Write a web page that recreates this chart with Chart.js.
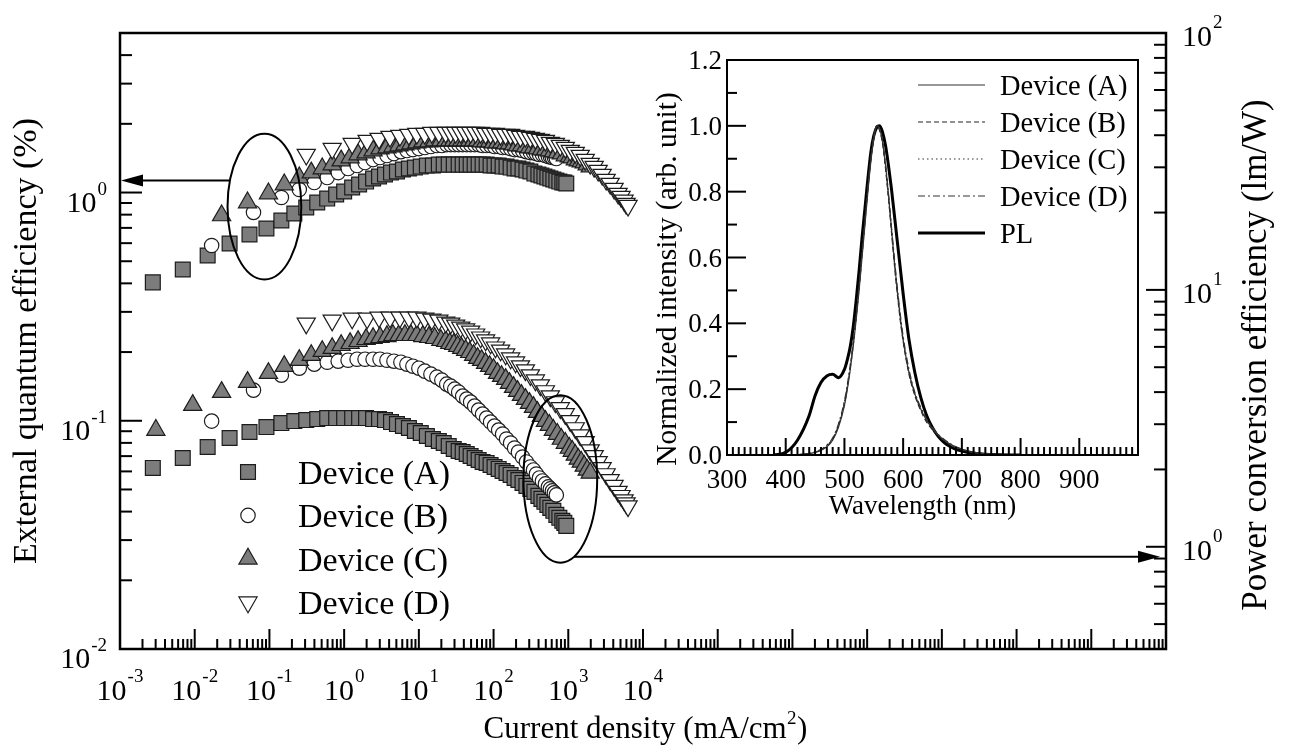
<!DOCTYPE html>
<html>
<head>
<meta charset="utf-8">
<script src="https://cdn.jsdelivr.net/npm/chart.js@4.4.1/dist/chart.umd.min.js"></script>
<style>
  html, body { margin: 0; padding: 0; background: #fff; }
  #wrap { position: relative; width: 1293px; height: 756px; }
  #wrap canvas { position: absolute; left: 0; top: 0; }
</style>
</head>
<body>
<div id="wrap">
  <canvas id="main" width="1293" height="756"></canvas>
  <canvas id="inset" width="1293" height="756"></canvas>
</div>
<script>
// ---- main plot data: current density (mA/cm2), EQE (%), power efficiency (lm/W)
const jA = [0.00275, 0.00692, 0.0149, 0.0293, 0.0541, 0.0912, 0.1445, 0.2154, 0.311, 0.4365, 0.593, 0.782, 1.0, 1.28, 1.585, 1.965, 2.44, 2.93, 3.52, 4.24, 5.09, 6.12, 7.36, 8.85, 10.6, 12.8, 15.4,
  18.5, 21.5, 25.1, 29.3, 34.1, 38.6, 43.7, 49.3, 55.8, 63.1, 71.3, 80.7, 91.2, 103, 117, 132, 149, 169, 191, 215, 244, 275, 311, 352, 398, 437, 479, 525, 575, 631, 692, 759, 832, 885, 940];
const eqeA = [0.404, 0.460, 0.530, 0.598, 0.655, 0.696, 0.754, 0.809, 0.860, 0.904, 0.941, 0.980, 1.010, 1.052, 1.084, 1.117, 1.152, 1.175, 1.199, 1.223, 1.236, 1.261, 1.274, 1.286, 1.299, 1.313, 1.313,
  1.326, 1.326, 1.326, 1.326, 1.326, 1.326, 1.326, 1.326, 1.326, 1.326, 1.326, 1.326, 1.313, 1.313, 1.313, 1.299, 1.299, 1.286, 1.274, 1.274, 1.261, 1.248, 1.236, 1.211, 1.199, 1.187, 1.175, 1.163, 1.152, 1.140, 1.128, 1.117, 1.106, 1.106, 1.095];
const pceA = [2.027, 2.216, 2.445, 2.651, 2.797, 2.924, 3.030, 3.085, 3.113, 3.141, 3.170, 3.170, 3.170, 3.170, 3.170, 3.170, 3.141, 3.141, 3.113, 3.058, 3.004, 2.951, 2.899, 2.822, 2.772, 2.698, 2.627,
  2.580, 2.534, 2.467, 2.402, 2.359, 2.338, 2.297, 2.256, 2.216, 2.177, 2.139, 2.120, 2.082, 2.045, 2.009, 1.973, 1.938, 1.904, 1.853, 1.820, 1.772, 1.725, 1.680, 1.636, 1.578, 1.536, 1.496, 1.456, 1.417, 1.380, 1.331, 1.296, 1.262, 1.239, 1.206];

const jB = [0.01685, 0.0612, 0.1445, 0.251, 0.398, 0.593, 0.832, 1.13, 1.49, 1.905, 2.44, 3.02, 3.74, 4.64, 5.75, 6.92, 8.32, 10.0, 12.0, 14.5, 17.4,
  20.3, 23.6, 26.7, 30.2, 34.1, 38.6, 43.7, 49.3, 55.8, 63.1, 71.3, 80.7, 91.2, 103, 117, 132, 149, 169, 191, 215, 244, 275, 311, 342, 374, 411, 450, 494, 541, 575, 612, 651, 692];
const eqeB = [0.586, 0.818, 0.951, 1.031, 1.106, 1.163, 1.223, 1.274, 1.313, 1.353, 1.394, 1.423, 1.452, 1.481, 1.511, 1.527, 1.542, 1.558, 1.574, 1.590, 1.606,
  1.606, 1.622, 1.622, 1.622, 1.622, 1.622, 1.622, 1.622, 1.622, 1.622, 1.606, 1.606, 1.606, 1.590, 1.590, 1.574, 1.574, 1.558, 1.542, 1.542, 1.527, 1.511, 1.496, 1.496, 1.481, 1.467, 1.467, 1.452, 1.437, 1.437, 1.423, 1.423, 1.409];
const pceB = [3.085, 4.072, 4.656, 4.957, 5.137, 5.229, 5.277, 5.324, 5.372, 5.372, 5.372, 5.372, 5.324, 5.277, 5.229, 5.137, 5.046, 4.957, 4.826, 4.698, 4.574,
  4.452, 4.295, 4.219, 4.108, 3.999, 3.859, 3.757, 3.657, 3.529, 3.404, 3.285, 3.170, 3.058, 2.951, 2.847, 2.747, 2.627, 2.534, 2.424, 2.338, 2.236, 2.139, 2.045, 1.991, 1.920, 1.853, 1.804, 1.757, 1.710, 1.680, 1.650, 1.621, 1.592];

const jC = [0.00302, 0.0094, 0.0229, 0.0509, 0.097, 0.158, 0.251, 0.363, 0.509, 0.692, 0.912, 1.202, 1.537, 1.965, 2.44, 3.02, 3.74, 4.50, 5.41, 6.51, 7.82, 9.40, 11.3, 13.6, 16.3, 19.7,
  22.9, 25.9, 29.3, 33.1, 37.4, 42.3, 47.9, 54.1, 61.2, 69.2, 78.2, 88.4, 100, 113, 128, 145, 163, 185, 209, 236, 267, 302, 342, 386, 437, 494, 558, 631, 713, 807, 912, 1031, 1130, 1240, 1360, 1491, 1634, 1792, 1965];
const eqeC = [null, null, 0.793, 0.904, 0.990, 1.084, 1.163, 1.223, 1.274, 1.326, 1.380, 1.423, 1.467, 1.496, 1.527, 1.558, 1.574, 1.590, 1.606, 1.622, 1.639, 1.655, 1.672, 1.672, 1.689, 1.689,
  1.689, 1.689, 1.689, 1.689, 1.689, 1.689, 1.689, 1.689, 1.689, 1.672, 1.672, 1.672, 1.655, 1.655, 1.655, 1.639, 1.639, 1.622, 1.606, 1.606, 1.590, 1.574, 1.574, 1.558, 1.542, 1.542, 1.527, 1.511, 1.496, 1.481, 1.452, 1.437, 1.423, 1.394, 1.380, 1.367, 1.353, 1.326, 1.299];
const pceC = [2.847, 3.561, 3.999, 4.373, 4.740, 5.046, 5.324, 5.568, 5.771, 5.928, 6.088, 6.198, 6.310, 6.424, 6.481, 6.540, 6.598, 6.658, 6.658, 6.658, 6.658, 6.658, 6.598, 6.540, 6.481, 6.367,
  6.310, 6.198, 6.143, 6.034, 5.928, 5.821, 5.719, 5.568, 5.420, 5.324, 5.184, 5.046, 4.912, 4.740, 4.614, 4.492, 4.335, 4.182, 4.035, 3.894, 3.757, 3.624, 3.497, 3.344, 3.226, 3.085, 2.977, 2.847, 2.747, 2.627, 2.534, 2.424, 2.359, 2.277, 2.197, 2.139, 2.064, 1.991, 1.938];

const jD = [0.311, 0.692, 1.28, 2.03, 2.93, 4.11, 5.58, 7.36, 9.40, 12.0, 14.9, 18.5, 22.9,
  26.7, 31.1, 36.3, 42.3, 49.3, 57.5, 67.1, 78.2, 91.2, 106, 124, 145, 169, 197, 229, 267, 311, 363, 423, 494, 575, 671, 782, 912, 1063, 1240, 1445, 1686, 1965, 2222, 2512, 2840, 3211, 3631, 4105, 4642, 5090, 5580, 5933, 6310];
const eqeD = [1.467, 1.558, 1.639, 1.689, 1.723, 1.758, 1.776, 1.794, 1.812, 1.812, 1.830, 1.830, 1.830,
  1.830, 1.830, 1.830, 1.830, 1.830, 1.830, 1.830, 1.812, 1.812, 1.812, 1.794, 1.794, 1.794, 1.776, 1.758, 1.758, 1.741, 1.723, 1.706, 1.689, 1.655, 1.639, 1.606, 1.574, 1.527, 1.496, 1.452, 1.394, 1.339, 1.299, 1.248, 1.199, 1.140, 1.095, 1.041, 0.990, 0.960, 0.923, 0.895, 0.877];
const pceD = [7.41, 7.61, 7.75, 7.75, 7.82, 7.82, 7.82, 7.82, 7.82, 7.75, 7.68, 7.61, 7.48,
  7.41, 7.28, 7.15, 7.03, 6.90, 6.72, 6.54, 6.37, 6.20, 5.98, 5.82, 5.62, 5.42, 5.23, 5.05, 4.87, 4.66, 4.45, 4.26, 4.04, 3.86, 3.66, 3.47, 3.29, 3.09, 2.90, 2.72, 2.56, 2.38, 2.26, 2.14, 2.03, 1.92, 1.82, 1.73, 1.64, 1.58, 1.52, 1.48, 1.44];

const deviceNames = ['Device (A)', 'Device (B)', 'Device (C)', 'Device (D)'];
const xTickExps = [-3, -2, -1, 0, 1, 2, 3, 4];
const eqeTickExps = [-2, -1, 0];
const pceTickExps = [0, 1, 2];

// ellipse + arrow marks, in data units
const eqeMark = { j: [0.0275, 0.267], v: [0.416, 1.81], arrowAt: 1.128 };
const pceMark = { j: [251, 2436], v: [0.867, 3.89], arrowAt: 0.915 };

// ---- inset data: EL / PL spectra
const wavelength = [380, 400, 420, 440, 450, 460, 470, 480, 490, 500, 505, 510, 515, 520, 525, 530, 535, 540, 545, 550, 555, 560, 565, 570, 575, 580, 585, 590, 595, 600, 610, 620, 630, 640, 650, 660, 670, 680, 690, 700, 720, 740, 760, 800];
const elA = [0, 0, 0.001, 0.004, 0.008, 0.014, 0.025, 0.045, 0.085, 0.15, 0.2, 0.26, 0.33, 0.41, 0.5, 0.6, 0.7, 0.8, 0.89, 0.96, 1.0, 0.99, 0.95, 0.88, 0.79, 0.69, 0.59, 0.5, 0.42, 0.35, 0.25, 0.185, 0.14, 0.105, 0.08, 0.06, 0.045, 0.033, 0.024, 0.017, 0.008, 0.004, 0.002, 0];
const elB = [0, 0, 0.001, 0.004, 0.008, 0.015, 0.027, 0.048, 0.09, 0.155, 0.205, 0.265, 0.335, 0.42, 0.51, 0.61, 0.71, 0.81, 0.9, 0.965, 1.0, 0.985, 0.945, 0.87, 0.78, 0.68, 0.58, 0.49, 0.41, 0.345, 0.245, 0.18, 0.135, 0.1, 0.077, 0.058, 0.043, 0.032, 0.023, 0.016, 0.008, 0.004, 0.002, 0];
const elC = [0, 0, 0.001, 0.005, 0.009, 0.016, 0.028, 0.05, 0.092, 0.16, 0.21, 0.27, 0.34, 0.42, 0.51, 0.61, 0.71, 0.81, 0.9, 0.965, 1.0, 0.99, 0.95, 0.875, 0.785, 0.685, 0.585, 0.495, 0.415, 0.35, 0.25, 0.185, 0.14, 0.105, 0.08, 0.06, 0.045, 0.033, 0.024, 0.017, 0.008, 0.004, 0.002, 0];
const elD = [0, 0, 0.001, 0.005, 0.01, 0.017, 0.03, 0.052, 0.095, 0.165, 0.215, 0.275, 0.345, 0.425, 0.515, 0.615, 0.715, 0.815, 0.905, 0.97, 1.0, 0.99, 0.955, 0.885, 0.795, 0.695, 0.6, 0.51, 0.43, 0.36, 0.26, 0.19, 0.145, 0.11, 0.083, 0.062, 0.047, 0.035, 0.025, 0.018, 0.009, 0.004, 0.002, 0];
const plSpec = [0, 0.008, 0.045, 0.12, 0.18, 0.22, 0.24, 0.245, 0.235, 0.26, 0.29, 0.33, 0.39, 0.47, 0.56, 0.66, 0.75, 0.84, 0.92, 0.97, 0.995, 1.0, 0.98, 0.94, 0.88, 0.81, 0.73, 0.65, 0.57, 0.49, 0.35, 0.25, 0.175, 0.12, 0.083, 0.056, 0.038, 0.026, 0.017, 0.012, 0.005, 0.002, 0.001, 0];
const specNames = ['Device (A)', 'Device (B)', 'Device (C)', 'Device (D)', 'PL'];
const wlTicks = [300, 400, 500, 600, 700, 800, 900];
const intTicks = [0, 0.2, 0.4, 0.6, 0.8, 1.0, 1.2];

const SERIF = '"Liberation Serif", "Times New Roman", Times, serif';
const EDGE = '#1c1c1c';

const STYLE = [
  { pointStyle: 'rect', pointRadius: 10.5, pointRotation: 0, pointBackgroundColor: '#7c7c7c' },
  { pointStyle: 'circle', pointRadius: 7.2, pointRotation: 0, pointBackgroundColor: '#ffffff' },
  { pointStyle: 'triangle', pointRadius: 10.5, pointRotation: 0, pointBackgroundColor: '#7c7c7c' },
  { pointStyle: 'triangle', pointRadius: 10.5, pointRotation: 180, pointBackgroundColor: '#ffffff' }
];

function series(label, js, vals, axis, st, order) {
  const data = [];
  js.forEach((j, i) => { if (vals[i] != null) data.push({ x: j, y: vals[i] }); });
  return Object.assign({
    label, data, yAxisID: axis, showLine: false, order,
    pointBorderColor: EDGE, pointBorderWidth: 1.2
  }, st);
}

const js = [jA, jB, jC, jD];
const eqes = [eqeA, eqeB, eqeC, eqeD];
const pces = [pceA, pceB, pceC, pceD];
const mainSets = [];
for (let k = 0; k < 4; k++) {
  mainSets.push(series(deviceNames[k] + ' EQE', js[k], eqes[k], 'y', STYLE[k], 4 - k));
  mainSets.push(series(deviceNames[k] + ' PCE', js[k], pces[k], 'y2', STYLE[k], 4 - k));
}

function line(ctx, x0, y0, x1, y1) {
  ctx.beginPath(); ctx.moveTo(x0, y0); ctx.lineTo(x1, y1); ctx.stroke();
}

function logTicks(scale, fn) {
  const lo = Math.floor(Math.log10(scale.min)), hi = Math.ceil(Math.log10(scale.max));
  for (let d = lo; d <= hi; d++) {
    for (let m = 1; m <= 9; m++) {
      const v = m * Math.pow(10, d);
      if (v < scale.min * 0.999 || v > scale.max * 1.001) continue;
      fn(scale.getPixelForValue(v), m === 1);
    }
  }
}

// "10" with a raised exponent; align is for the whole group
function powLabel(ctx, exp, x, base, supBase, align) {
  const big = '30px ' + SERIF, small = '19px ' + SERIF;
  const e = exp < 0 ? '-' + (-exp) : String(exp);
  ctx.font = big; const w1 = ctx.measureText('10').width;
  ctx.font = small; const w2 = ctx.measureText(e).width;
  let x0 = x;
  if (align === 'center') x0 = x - (w1 + w2 + 1) / 2;
  if (align === 'right') x0 = x - (w1 + w2 + 1);
  ctx.textAlign = 'left'; ctx.textBaseline = 'alphabetic';
  ctx.font = big; ctx.fillText('10', x0, base);
  ctx.font = small; ctx.fillText(e, x0 + w1 + 1, supBase);
}

function ellipseOf(xs, ys, mark) {
  const x0 = xs.getPixelForValue(mark.j[0]), x1 = xs.getPixelForValue(mark.j[1]);
  const y0 = ys.getPixelForValue(mark.v[0]), y1 = ys.getPixelForValue(mark.v[1]);
  return { cx: (x0 + x1) / 2, cy: (y0 + y1) / 2, rx: Math.abs(x1 - x0) / 2, ry: Math.abs(y1 - y0) / 2 };
}

function arrow(ctx, x0, y, x1) {
  const dir = Math.sign(x1 - x0), head = 22, half = 6;
  line(ctx, x0, y, x1 - dir * head, y);
  ctx.beginPath();
  ctx.moveTo(x1, y);
  ctx.lineTo(x1 - dir * head, y - half);
  ctx.lineTo(x1 - dir * head, y + half);
  ctx.closePath(); ctx.fill();
}

const mainDecor = {
  id: 'mainDecor',
  afterDraw(chart) {
    const { ctx, chartArea: a } = chart;
    const { x, y, y2 } = chart.scales;
    ctx.save();
    ctx.strokeStyle = '#000'; ctx.fillStyle = '#000';
    ctx.lineWidth = 2;
    logTicks(x, (px, major) => line(ctx, px, a.bottom, px, a.bottom - (major ? 20 : 10)));
    logTicks(y, (py, major) => line(ctx, a.left, py, a.left + (major ? 22 : 12), py));
    logTicks(y2, (py, major) => line(ctx, a.right, py, a.right - (major ? 20 : 12), py));
    ctx.lineWidth = 2.5;
    ctx.strokeRect(a.left, a.top, a.right - a.left, a.bottom - a.top);

    xTickExps.forEach(d => powLabel(ctx, d, x.getPixelForValue(Math.pow(10, d)), a.bottom + 51, a.bottom + 33, 'center'));
    eqeTickExps.forEach(d => { const py = y.getPixelForValue(Math.pow(10, d)); powLabel(ctx, d, a.left - 13, py + 19, py + 2, 'right'); });
    pceTickExps.forEach(d => { const py = y2.getPixelForValue(Math.pow(10, d)); powLabel(ctx, d, a.right + 16, py + 13, py - 5, 'left'); });

    // axis titles
    ctx.textBaseline = 'alphabetic';
    const t1 = 'Current density (mA/cm', t2 = ')';
    ctx.font = '31px ' + SERIF;
    const w1 = ctx.measureText(t1).width, w3 = ctx.measureText(t2).width;
    ctx.font = '19px ' + SERIF; const w2 = ctx.measureText('2').width;
    const tx = (a.left + a.right) / 2 + 2 - (w1 + w2 + w3) / 2;
    ctx.textAlign = 'left';
    ctx.font = '31px ' + SERIF; ctx.fillText(t1, tx, 738);
    ctx.font = '19px ' + SERIF; ctx.fillText('2', tx + w1 + 0.5, 724);
    ctx.font = '31px ' + SERIF; ctx.fillText(t2, tx + w1 + w2 + 1, 738);

    ctx.textAlign = 'center';
    ctx.font = '34px ' + SERIF;
    ctx.save(); ctx.translate(36, (a.top + a.bottom) / 2); ctx.rotate(-Math.PI / 2);
    ctx.fillText('External quantum efficiency (%)', 0, 0); ctx.restore();
    ctx.font = '35px ' + SERIF;
    ctx.save(); ctx.translate(1266, 355); ctx.rotate(-Math.PI / 2);
    ctx.fillText('Power conversion efficiency (lm/W)', 0, 0); ctx.restore();

    // legend
    ctx.font = '34px ' + SERIF; ctx.textAlign = 'left';
    deviceNames.forEach((name, k) => {
      const ry = a.top + 439 + k * 43.4;
      const st = STYLE[k];
      ctx.fillStyle = st.pointBackgroundColor; ctx.strokeStyle = EDGE; ctx.lineWidth = 1.2;
      Chart.helpers.drawPoint(ctx, { pointStyle: st.pointStyle, radius: st.pointRadius, rotation: st.pointRotation, borderWidth: 1.2 }, a.left + 128, ry);
      ctx.fillStyle = '#000';
      ctx.fillText(name, a.left + 178, ry + 12);
    });

    // ellipses with arrows to their axes
    ctx.strokeStyle = '#000'; ctx.fillStyle = '#000'; ctx.lineWidth = 2;
    const e1 = ellipseOf(x, y, eqeMark), e2 = ellipseOf(x, y2, pceMark);
    [e1, e2].forEach(e => { ctx.beginPath(); ctx.ellipse(e.cx, e.cy, e.rx, e.ry, 0, 0, Math.PI * 2); ctx.stroke(); });
    const ay1 = y.getPixelForValue(eqeMark.arrowAt);
    const ax1 = e1.cx - e1.rx * Math.sqrt(1 - Math.pow((ay1 - e1.cy) / e1.ry, 2));
    arrow(ctx, ax1, ay1, a.left + 1);
    const ay2 = y2.getPixelForValue(pceMark.arrowAt);
    const ax2 = e2.cx + e2.rx * Math.sqrt(Math.max(0, 1 - Math.pow((ay2 - e2.cy) / e2.ry, 2)));
    arrow(ctx, ax2, ay2, a.right - 6);
    ctx.restore();
  }
};

const hidden = { ticks: { display: false }, grid: { display: false }, border: { display: false } };

new Chart(document.getElementById('main'), {
  type: 'scatter',
  data: { datasets: mainSets },
  options: {
    responsive: false, animation: false, devicePixelRatio: 1, events: [],
    layout: { padding: { top: 33, left: 0, right: 0, bottom: 0 } },
    plugins: { legend: { display: false }, tooltip: { enabled: false } },
    scales: {
      x: Object.assign({ type: 'logarithmic', min: 1e-3, max: 1e11, afterFit(s) { s.height = 107; } }, hidden),
      y: Object.assign({ type: 'logarithmic', position: 'left', min: 0.01, max: 5, afterFit(s) { s.width = 120; } }, hidden),
      y2: Object.assign({ type: 'logarithmic', position: 'right', min: 0.4, max: 100, afterFit(s) { s.width = 127; } }, hidden)
    }
  },
  plugins: [mainDecor]
});

// ---- inset
const SPEC_STYLE = [
  { borderColor: '#333', borderWidth: 1.2, borderDash: [] },
  { borderColor: '#222', borderWidth: 1.2, borderDash: [5, 3] },
  { borderColor: '#333', borderWidth: 1.2, borderDash: [1.5, 3] },
  { borderColor: '#333', borderWidth: 1.2, borderDash: [7, 3, 2, 3] },
  { borderColor: '#000', borderWidth: 3, borderDash: [] }
];
const specs = [elA, elB, elC, elD, plSpec];
const insetSets = specs.map((s, k) => Object.assign({
  label: specNames[k],
  data: wavelength.map((w, i) => ({ x: w, y: s[i] })),
  pointRadius: 0, fill: false, cubicInterpolationMode: 'monotone'
}, SPEC_STYLE[k]));

const insetDecor = {
  id: 'insetDecor',
  afterDraw(chart) {
    const { ctx, chartArea: a } = chart;
    const { x, y } = chart.scales;
    ctx.save();
    ctx.strokeStyle = '#000'; ctx.fillStyle = '#000'; ctx.lineWidth = 2;
    for (let w = 310; w < 1000; w += 10) {
      const px = x.getPixelForValue(w);
      line(ctx, px, a.bottom, px, a.bottom - (w % 100 === 0 ? 17 : 8));
    }
    for (let k = 1; k < 12; k++) {
      const py = y.getPixelForValue(k / 10);
      line(ctx, a.left, py, a.left + (k % 2 === 0 ? 19 : 10), py);
    }
    ctx.strokeRect(a.left, a.top, a.right - a.left, a.bottom - a.top);

    ctx.font = '27px ' + SERIF; ctx.textBaseline = 'alphabetic';
    ctx.textAlign = 'center';
    wlTicks.forEach(w => ctx.fillText(String(w), x.getPixelForValue(w), a.bottom + 33));
    ctx.textAlign = 'right';
    intTicks.forEach(v => ctx.fillText(v.toFixed(1), a.left - 5, y.getPixelForValue(v) + 9));

    ctx.textAlign = 'center';
    ctx.fillText('Wavelength (nm)', (a.left + a.right) / 2 - 10, a.bottom + 59);
    ctx.font = '29.5px ' + SERIF;
    ctx.save(); ctx.translate(676, 279); ctx.rotate(-Math.PI / 2);
    ctx.fillText('Normalized intensity (arb. unit)', 0, 0); ctx.restore();

    ctx.font = '28.5px ' + SERIF;
    ctx.textAlign = 'left';
    specNames.forEach((name, k) => {
      const ry = a.top + 25 + k * 37;
      const st = SPEC_STYLE[k];
      ctx.strokeStyle = st.borderColor; ctx.lineWidth = st.borderWidth; ctx.setLineDash(st.borderDash);
      line(ctx, a.left + 191, ry, a.left + 258, ry);
      ctx.setLineDash([]);
      ctx.fillStyle = '#000';
      ctx.fillText(name, a.left + 273, ry + 10);
    });
    ctx.restore();
  }
};

new Chart(document.getElementById('inset'), {
  type: 'line',
  data: { datasets: insetSets },
  options: {
    responsive: false, animation: false, devicePixelRatio: 1, events: [],
    layout: { padding: { left: 727, top: 60, right: 155, bottom: 301 } },
    plugins: { legend: { display: false }, tooltip: { enabled: false } },
    scales: {
      x: Object.assign({ type: 'linear', min: 300, max: 1000, afterFit(s) { s.height = 0; } }, hidden),
      y: Object.assign({ type: 'linear', min: 0, max: 1.2, afterFit(s) { s.width = 0; } }, hidden)
    }
  },
  plugins: [insetDecor]
});
</script>
</body>
</html>
